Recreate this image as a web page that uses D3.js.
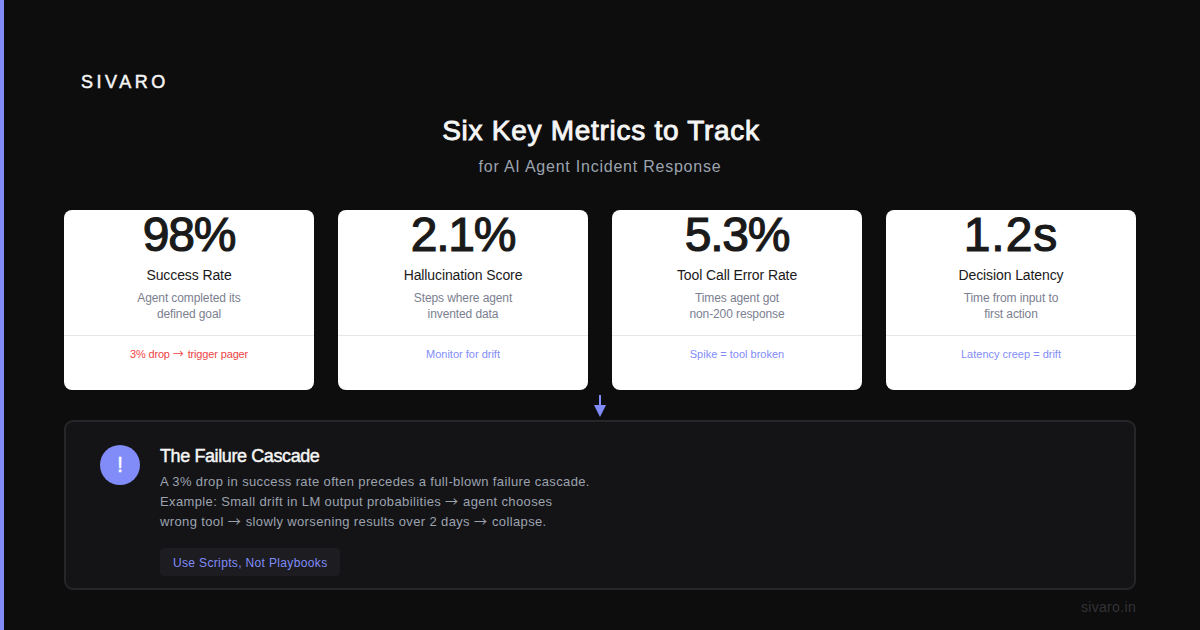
<!DOCTYPE html>
<html>
<head>
<meta charset="utf-8">
<title>Six Key Metrics to Track</title>
<script src="https://d3js.org/d3.v7.min.js"></script>
<style>
  html, body { margin: 0; padding: 0; background: #0d0d0d; overflow: hidden; }
  svg { display: block; }
  text { font-family: "Liberation Sans", sans-serif; }
  tspan.arrow { font-family: "Noto Sans CJK SC", sans-serif; letter-spacing: 1px; }
</style>
</head>
<body>
<svg id="chart" width="1200" height="630"></svg>
<script>
// card contents
const metricValues = ["98%", "2.1%", "5.3%", "1.2s"];
const metricNames = ["Success Rate", "Hallucination Score", "Tool Call Error Rate", "Decision Latency"];
const metricDescs = [
  ["Agent completed its", "defined goal"],
  ["Steps where agent", "invented data"],
  ["Times agent got", "non-200 response"],
  ["Time from input to", "first action"]
];
const metricNotes = ["3% drop → trigger pager", "Monitor for drift", "Spike = tool broken", "Latency creep = drift"];
const cascadeLines = [
  "A 3% drop in success rate often precedes a full-blown failure cascade.",
  "Example: Small drift in LM output probabilities → agent chooses",
  "wrong tool → slowly worsening results over 2 days → collapse."
];

const svg = d3.select("#chart");
const accent = "#818cf8";

// the arrows come from the CJK face, they are longer and thinner there
function label(parent, x, y, str, size, fill, anchor, spacing, heavy) {
  const t = parent.append("text")
    .attr("x", x).attr("y", y)
    .attr("font-size", size)
    .attr("fill", fill)
    .attr("text-anchor", anchor || "start")
    .attr("letter-spacing", spacing || 0);
  if (heavy) t.attr("stroke", fill).attr("stroke-width", heavy);
  str.split("→").forEach((part, i) => {
    if (i > 0) t.append("tspan").attr("class", "arrow").text("→");
    t.append("tspan").text(part);
  });
  return t;
}

svg.append("rect").attr("width", 1200).attr("height", 630).attr("fill", "#0d0d0d");
svg.append("rect").attr("width", 4).attr("height", 630).attr("fill", accent);

label(svg, 81, 88, "SIVARO", 18, "#f5f5f5", "start", 3.5, 0.5);
label(svg, 601, 140, "Six Key Metrics to Track", 28, "#f5f5f5", "middle", 0.72, 0.9);
label(svg, 600, 172, "for AI Agent Incident Response", 16, "#9ca3af", "middle", 0.77);

// cards
const x = d3.scaleBand().domain(metricNames).range([64, 1136]).paddingInner(24 / 274);
const cards = svg.selectAll("g.card").data(metricNames).join("g")
  .attr("class", "card")
  .attr("transform", d => `translate(${x(d)},210)`);

cards.append("rect")
  .attr("width", x.bandwidth()).attr("height", 180).attr("rx", 8)
  .attr("fill", "#ffffff");

const cx = x.bandwidth() / 2;
cards.each(function (d, i) {
  const card = d3.select(this);
  label(card, cx, 41, metricValues[i], 48, "#1a1a1a", "middle", i === 3 ? 1 : -1.2, 1.2);
  label(card, cx, 70, d, 14, "#1a1a1a", "middle", -0.1);
  metricDescs[i].forEach((line, j) => {
    label(card, cx, 92 + j * 16, line, 12, "#7b8090", "middle", -0.1);
  });
  label(card, cx, 148, metricNotes[i], 11, i === 0 ? "#ef4444" : accent, "middle", i === 0 ? -0.15 : 0);
});
cards.append("line")
  .attr("x1", 0).attr("x2", x.bandwidth()).attr("y1", 125.5).attr("y2", 125.5)
  .attr("stroke", "#e5e7eb");

// arrow between cards and panel
svg.append("rect").attr("x", 599).attr("y", 395).attr("width", 2).attr("height", 12).attr("fill", accent);
svg.append("path").attr("d", "M594,405H606L600,417Z").attr("fill", accent);

// failure cascade panel
svg.append("rect")
  .attr("x", 65).attr("y", 421).attr("width", 1070).attr("height", 168).attr("rx", 8)
  .attr("fill", "#141417").attr("stroke", "#25252a").attr("stroke-width", 2);
svg.append("circle").attr("cx", 120).attr("cy", 465).attr("r", 20).attr("fill", accent);
label(svg, 120, 472, "!", 22, "#ffffff", "middle", 0, 0.3);
label(svg, 160, 462, "The Failure Cascade", 18, "#f5f5f5", "start", -0.4, 0.45);
cascadeLines.forEach((line, i) => {
  label(svg, 160, 486 + i * 20, line, 13, "#9ca3af", "start", 0.37);
});
svg.append("rect").attr("x", 160).attr("y", 548).attr("width", 180).attr("height", 28).attr("rx", 4).attr("fill", "#1c1c21");
label(svg, 173, 567, "Use Scripts, Not Playbooks", 12, accent, "start", 0.35);

label(svg, 1136, 612, "sivaro.in", 14, "#333338", "end", 0.33);
</script>
</body>
</html>
